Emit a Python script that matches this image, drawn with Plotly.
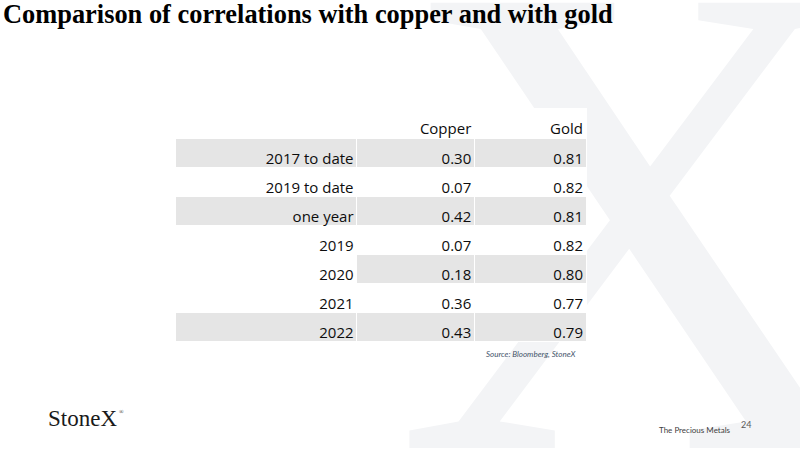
import plotly.graph_objects as go

# ---- data ----
periods = ["2017 to date", "2019 to date", "one year", "2019", "2020", "2021", "2022"]
copper = [0.30, 0.07, 0.42, 0.07, 0.18, 0.36, 0.43]
gold = [0.81, 0.82, 0.81, 0.82, 0.80, 0.77, 0.79]
headers = ["", "Copper", "Gold"]

W, H = 800, 450
GRAY = "#e5e5e5"
WHITE = "#ffffff"
CLEAR = "rgba(0,0,0,0)"
label_fill = [GRAY, WHITE, GRAY, WHITE, WHITE, WHITE, GRAY]
value_fill = [GRAY, WHITE, GRAY, WHITE, GRAY, WHITE, GRAY]

TFONT = "Open Sans, sans-serif"
cell_values = [periods, [f"{v:.2f}" for v in copper], [f"{v:.2f}" for v in gold]]
blank_values = [["" for _ in col] for col in cell_values]
blank_headers = ["" for _ in headers]

fig = go.Figure()

# faint watermark "X" (background)
fig.add_trace(go.Scatter(
    x=[640], y=[278], mode="text", text=["X"],
    textposition="middle center",
    textfont=dict(family="Liberation Serif, serif", size=680, color="#f3f4f6"),
    hoverinfo="skip", showlegend=False,
))

# table: cell backgrounds
fig.add_trace(go.Table(
    domain=dict(x=[175 / W, 586 / W], y=[1 - 343 / H, 1 - 108 / H]),
    columnwidth=[181, 118, 112],
    header=dict(values=blank_headers, align="right", height=30, fill_color=WHITE,
                line=dict(color=WHITE, width=1),
                font=dict(family=TFONT, size=15, color=CLEAR)),
    cells=dict(values=blank_values, align="right", height=29,
               fill_color=[label_fill, value_fill, value_fill],
               line=dict(color=WHITE, width=1),
               font=dict(family=TFONT, size=15, color=CLEAR)),
))

# table: cell texts (offset so text sits low and close to the right edge, as in the slide)
fig.add_trace(go.Table(
    domain=dict(x=[181 / W, 592 / W], y=[1 - 350 / H, 1 - 115 / H]),
    columnwidth=[181, 118, 112],
    header=dict(values=headers, align="right", height=30, fill_color=CLEAR,
                line=dict(color=CLEAR, width=0),
                font=dict(family=TFONT, size=15, color="#0d0d0d")),
    cells=dict(values=cell_values, align="right", height=29,
               fill_color=CLEAR, line=dict(color=CLEAR, width=0),
               font=dict(family=TFONT, size=15, color="#0d0d0d")),
))

fig.update_xaxes(range=[0, W], visible=False, fixedrange=True)
fig.update_yaxes(range=[H, 0], visible=False, fixedrange=True)

ann = [
    dict(text="Comparison of correlations with copper and with gold",
         x=0, y=1, xref="paper", yref="paper", xanchor="left", yanchor="top",
         xshift=1, yshift=3, showarrow=False,
         font=dict(family="Liberation Serif, serif", size=26.4, color="#000000", weight="bold")),
    dict(text="<i>Source: Bloomberg, StoneX</i>",
         x=578 / W, y=1 - 354 / H, xref="paper", yref="paper", xanchor="right", yanchor="middle",
         showarrow=False, font=dict(family="Lato, sans-serif", size=8, color="#44546a")),
    dict(text="StoneX",
         x=46 / W, y=1 - 418 / H, xref="paper", yref="paper", xanchor="left", yanchor="middle",
         showarrow=False, font=dict(family="Liberation Serif, serif", size=23, color="#1a1a1a")),
    dict(text="®",
         x=117 / W, y=1 - 412 / H, xref="paper", yref="paper", xanchor="left", yanchor="middle",
         showarrow=False, font=dict(family="Liberation Serif, serif", size=6, color="#1a1a1a")),
    dict(text="The Precious Metals",
         x=733 / W, y=1 - 430 / H, xref="paper", yref="paper", xanchor="right", yanchor="middle",
         showarrow=False, font=dict(family="Lato, sans-serif", size=8, color="#404040")),
    dict(text="24",
         x=739 / W, y=1 - 424 / H, xref="paper", yref="paper", xanchor="left", yanchor="middle",
         showarrow=False, font=dict(family="Lato, sans-serif", size=9, color="#595959")),
]

fig.update_layout(
    width=W, height=H,
    margin=dict(l=0, r=0, t=0, b=0),
    paper_bgcolor="#ffffff", plot_bgcolor="#ffffff",
    showlegend=False,
    annotations=ann,
)

fig.write_html("out.html", config={"displayModeBar": False},
               post_script="document.body.style.margin='0px';")
